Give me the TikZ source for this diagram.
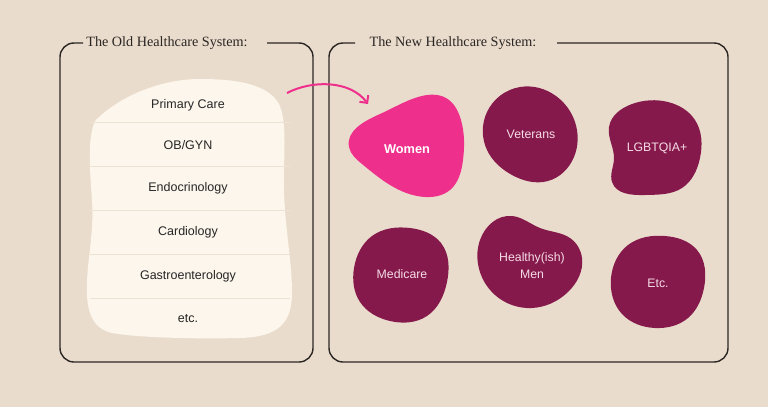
\documentclass[tikz,border=0pt]{standalone}
\usepackage{fontspec}
\setmainfont{Liberation Serif}
\setsansfont{Liberation Sans}
\usetikzlibrary{arrows.meta,hobby}
\definecolor{bg}{HTML}{EADCCC}
\definecolor{cream}{HTML}{FCF6EC}
\definecolor{sepline}{HTML}{EEE2D2}
\definecolor{maroon}{HTML}{85194B}
\definecolor{hotpink}{HTML}{EE2F8C}
\definecolor{frame}{HTML}{2A2624}
\definecolor{blobtext}{HTML}{F6DCE6}
\tikzset{
  framebox/.style={draw=frame, line width=1.4pt, rounded corners=14pt},
  titletext/.style={font=\fontsize{14.2}{16}\selectfont, text=frame, inner sep=0pt},
  oldlabel/.style={font=\sffamily\fontsize{12.5}{15}\selectfont, text=black!85, inner sep=0pt},
  bloblabel/.style={font=\sffamily\fontsize{12.3}{17}\selectfont, text=blobtext, inner sep=0pt, align=center},
  blobfill/.style={fill=maroon},
  sep/.style={draw=sepline, line width=0.9pt},
  flow/.style={draw=hotpink, line width=2pt, -{Straight Barb[length=5.5pt,width=11pt,line width=2pt]}}
}
\begin{document}
\begin{tikzpicture}[x=1pt,y=-1pt]
\fill[bg] (0,0) rectangle (768,407);
\useasboundingbox (0,0) rectangle (768,407);

% frames
\draw[framebox] (83,43) -- (60,43) -- (60,362) -- (313,362) -- (313,43) -- (267,43);
\draw[framebox] (355,43) -- (329,43) -- (329,362) -- (728,362) -- (728,43) -- (557,43);
\node[titletext] (oldtitle) at (167,43) {The Old Healthcare System:};
\node[titletext] (newtitle) at (453,43) {The New Healthcare System:};

% cream blob
\fill[cream] (95,121) .. controls (118,97) and (160,79) .. (200,79)
  .. controls (240,79) and (268,85) .. (279,104)
  .. controls (288,122) and (283,160) .. (284,190)
  .. controls (285,230) and (292,260) .. (292,293)
  .. controls (292,325) and (276,337) .. (240,338)
  .. controls (200,339) and (140,338) .. (112,333)
  .. controls (89,328) and (86,305) .. (87,282)
  .. controls (88,255) and (94,232) .. (92,200)
  .. controls (90,170) and (87,140) .. (95,121) -- cycle;
\foreach \yy in {122,166,210,254,298} {
  \path[sep] (90,\yy) -- (290,\yy);
}
\node[oldlabel] (primary) at (188,105) {Primary Care};
\node[oldlabel] (obgyn) at (188,145) {OB/GYN};
\node[oldlabel] (endo) at (188,188) {Endocrinology};
\node[oldlabel] (cardio) at (188,232) {Cardiology};
\node[oldlabel] (gastro) at (188,276) {Gastroenterology};
\node[oldlabel] (etcold) at (188,319) {etc.};

% new blobs
\fill[hotpink] plot[closed hobby] coordinates {
 (349,147) (380,114) (418,97) (446,98) (461,120) (463,160) (450,190) (425,197) (390,185) (362,164)};
\node[font=\sffamily\bfseries\fontsize{12.8}{15}\selectfont, text=white, inner sep=0pt] (women) at (407,149) {Women};

\fill[blobfill] plot[closed hobby] coordinates {
 (520,87) (556,96) (575,122) (574,157) (548,181) (512,175) (487,150) (487,112)};
\node[bloblabel] (veterans) at (531,134) {Veterans};

\fill[blobfill] plot[closed hobby] coordinates {
 (609,127) (632,104) (668,102) (695,120) (700,158) (682,188) (645,195) (612,182) (614,159)};
\node[bloblabel] (lgbt) at (657,148) {LGBTQIA+};

\fill[blobfill] plot[closed hobby] coordinates {
 (354,268) (372,236) (410,228) (441,243) (447,282) (427,316) (390,321) (360,302)};
\node[bloblabel] (medicare) at (402,274) {Medicare};

\fill[blobfill] plot[closed hobby] coordinates {
 (480,240) (512,216) (540,228) (570,238) (582,258) (568,292) (532,308) (495,295) (478,264)};
\node[bloblabel] (healthy) at (532,265.5) {Healthy(ish)\\Men};

\fill[blobfill] plot[closed hobby] coordinates {
 (611,278) (628,245) (665,236) (697,250) (704,288) (688,318) (655,328) (622,314)};
\node[bloblabel] (etcnew) at (658,283) {Etc.};

% arrow
\coordinate (astart) at (287,93);
\coordinate (aend) at (368,104);
\draw[flow] (astart) .. controls (312,80) and (350,80) .. (aend);
\end{tikzpicture}
\end{document}
